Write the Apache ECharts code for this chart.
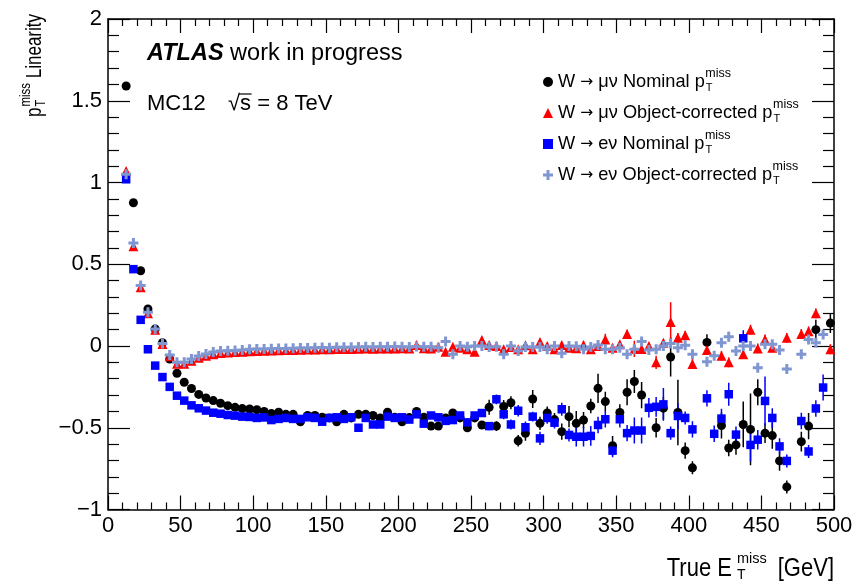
<!DOCTYPE html>
<html><head><meta charset="utf-8">
<script src="https://cdn.jsdelivr.net/npm/echarts@6/dist/echarts.min.js"></script>
<style>html,body{margin:0;padding:0;background:#fff}#c{width:855px;height:582px}</style>
</head><body><div id="c"></div>
<script>
const binCenters = [12.5,17.5,22.5,27.5,32.5,37.5,42.5,47.5,52.5,57.5,
 62.5,67.5,72.5,77.5,82.5,87.5,92.5,97.5,102.5,107.5,
 112.5,117.5,122.5,127.5,132.5,137.5,142.5,147.5,152.5,157.5,
 162.5,167.5,172.5,177.5,182.5,187.5,192.5,197.5,202.5,207.5,
 212.5,217.5,222.5,227.5,232.5,237.5,242.5,247.5,252.5,257.5,
 262.5,267.5,272.5,277.5,282.5,287.5,292.5,297.5,302.5,307.5,
 312.5,317.5,322.5,327.5,332.5,337.5,342.5,347.5,352.5,357.5,
 362.5,367.5,372.5,377.5,382.5,387.5,392.5,397.5,402.5,407.5,
 412.5,417.5,422.5,427.5,432.5,437.5,442.5,447.5,452.5,457.5,
 462.5,467.5,472.5,477.5,482.5,487.5,492.5,497.5];

const muNominal = [1.59,0.876,0.46,0.226,0.104,0.02,-0.08,-0.167,-0.222,-0.26,
 -0.296,-0.318,-0.334,-0.35,-0.365,-0.375,-0.383,-0.385,-0.39,-0.40,
 -0.413,-0.405,-0.418,-0.418,-0.463,-0.425,-0.425,-0.436,-0.44,-0.463,
 -0.418,-0.44,-0.418,-0.418,-0.425,-0.44,-0.405,-0.436,-0.463,-0.438,
 -0.40,-0.436,-0.49,-0.49,-0.44,-0.41,-0.44,-0.50,-0.44,-0.483,
 -0.375,-0.49,-0.37,-0.347,-0.58,-0.534,-0.324,-0.473,-0.41,-0.45,
 -0.524,-0.432,-0.473,-0.453,-0.367,-0.259,-0.34,-0.61,-0.407,-0.283,
 -0.217,-0.30,null,-0.50,-0.38,-0.067,-0.407,-0.64,-0.745,null,
 0.022,null,-0.486,-0.624,-0.605,-0.48,-0.51,-0.283,-0.533,-0.548,
 -0.703,-0.862,null,-0.585,-0.49,0.10,null,0.14];

const muCorrected = [1.07,0.61,0.36,0.20,0.10,0.012,-0.062,-0.108,-0.108,-0.09,
 -0.072,-0.06,-0.05,-0.043,-0.04,-0.037,-0.035,-0.032,-0.03,-0.029,
 -0.028,-0.026,-0.025,-0.024,-0.023,-0.022,-0.021,-0.02,-0.02,-0.019,
 -0.018,-0.018,-0.017,-0.016,-0.017,-0.015,-0.016,-0.015,-0.014,-0.016,
 0.006,-0.014,-0.015,-0.004,-0.035,-0.004,-0.01,-0.02,-0.035,0.037,
 0.006,0.0,-0.02,-0.006,-0.02,0.004,-0.02,0.025,0.0,-0.02,
 0.006,-0.01,-0.013,0.006,-0.02,0.0,0.04,-0.01,0.01,0.074,
 -0.018,-0.018,0.0,-0.10,0.02,0.147,0.05,0.066,-0.11,null,
 -0.025,null,-0.06,-0.10,null,-0.05,0.10,-0.015,0.04,-0.01,
 null,0.05,null,0.074,0.09,0.20,null,-0.02];

const eNominal = [1.02,0.47,0.16,-0.02,-0.12,-0.19,-0.25,-0.304,-0.334,-0.363,
 -0.381,-0.395,-0.408,-0.414,-0.422,-0.426,-0.432,-0.434,-0.44,-0.437,
 -0.453,-0.446,-0.44,-0.446,-0.446,-0.436,-0.44,-0.463,-0.44,-0.436,
 -0.446,-0.436,-0.50,-0.44,-0.48,-0.48,-0.432,-0.44,-0.436,-0.45,
 -0.418,-0.475,-0.425,-0.436,-0.458,-0.453,-0.425,-0.467,-0.425,-0.41,
 -0.49,-0.326,-0.418,-0.48,-0.396,-0.497,-0.432,-0.565,-0.44,-0.469,
 -0.387,-0.544,-0.555,-0.555,-0.55,-0.483,-0.448,-0.64,-0.448,-0.533,
 -0.517,-0.517,-0.378,-0.372,-0.357,-0.533,-0.428,-0.44,-0.51,null,
 -0.32,-0.537,-0.444,-0.295,-0.542,0.047,-0.605,-0.573,-0.336,-0.44,
 -0.614,-0.703,null,-0.459,-0.645,-0.382,-0.254,null];

const eCorrected = [1.05,0.63,0.37,0.206,0.104,0.016,-0.055,-0.10,-0.10,-0.08,
 -0.061,-0.049,-0.037,-0.031,-0.029,-0.027,-0.024,-0.02,-0.019,-0.018,
 -0.017,-0.016,-0.015,-0.013,-0.012,-0.012,-0.01,-0.009,-0.01,-0.008,
 -0.007,-0.008,-0.006,-0.005,-0.006,-0.004,-0.005,-0.003,-0.004,-0.006,
 -0.003,-0.004,-0.005,-0.01,0.027,-0.05,0.0,-0.004,0.0,0.0,
 -0.006,-0.004,-0.05,0.0,-0.03,-0.006,-0.006,-0.006,-0.02,0.0,
 -0.045,0.0,-0.002,-0.02,-0.006,0.006,-0.02,-0.02,-0.01,-0.05,
 -0.02,0.028,-0.025,-0.02,0.0,0.015,-0.01,0.004,-0.05,null,
 -0.096,-0.06,0.02,0.057,-0.03,0.0,0.0,-0.133,0.01,0.01,
 -0.025,-0.14,null,-0.05,0.04,0.02,0.07,null];

const muNominalErr = [0.005,0.005,0.005,0.005,0.005,0.005,0.005,0.005,0.005,0.005,
 0.005,0.005,0.005,0.005,0.005,0.005,0.005,0.005,0.005,0.005,
 0.005,0.005,0.005,0.005,0.005,0.005,0.005,0.005,0.005,0.005,
 0.008,0.008,0.008,0.008,0.008,0.008,0.008,0.008,0.008,0.008,
 0.008,0.008,0.008,0.008,0.01,0.01,0.012,0.02,0.02,0.025,
 0.046,0.03,0.04,0.04,0.035,0.045,0.055,0.04,0.04,0.04,
 0.05,0.065,0.076,0.05,0.045,0.09,0.06,0.06,0.05,0.08,
 0.07,0.08,null,0.06,0.07,0.12,0.2,0.05,0.04,null,
 0.05,null,0.08,0.05,0.06,0.14,0.22,0.08,0.06,0.08,
 0.06,0.04,null,0.06,0.08,0.06,null,0.06];

const muCorrectedErr = [0.004,0.004,0.004,0.004,0.004,0.004,0.004,0.004,0.004,0.004,
 0.004,0.004,0.004,0.004,0.004,0.004,0.004,0.004,0.004,0.004,
 0.004,0.004,0.004,0.004,0.004,0.004,0.004,0.004,0.004,0.004,
 0.004,0.004,0.004,0.004,0.004,0.004,0.004,0.004,0.004,0.004,
 0.005,0.005,0.005,0.006,0.006,0.008,0.01,0.012,0.012,0.015,
 0.015,0.015,0.015,0.015,0.015,0.02,0.02,0.02,0.02,0.02,
 0.02,0.02,0.025,0.025,0.025,0.025,0.035,0.02,0.02,0.025,
 0.05,0.03,0.02,0.04,0.02,0.12,0.03,0.025,0.03,null,
 0.02,null,0.03,0.03,null,0.03,0.03,0.03,0.03,0.03,
 null,0.03,null,0.03,0.03,0.03,null,0.03];

const eNominalErr = [0.005,0.005,0.005,0.005,0.005,0.005,0.005,0.005,0.005,0.005,
 0.005,0.005,0.005,0.005,0.005,0.005,0.005,0.005,0.005,0.005,
 0.005,0.005,0.005,0.005,0.005,0.005,0.005,0.005,0.005,0.005,
 0.008,0.008,0.008,0.008,0.008,0.008,0.008,0.008,0.008,0.008,
 0.008,0.008,0.008,0.008,0.01,0.01,0.012,0.015,0.02,0.02,
 0.025,0.03,0.03,0.03,0.035,0.035,0.03,0.04,0.035,0.035,
 0.04,0.04,0.06,0.06,0.06,0.05,0.05,0.04,0.05,0.05,
 0.08,0.08,0.06,0.06,0.1,0.04,0.08,0.04,0.05,null,
 0.05,0.05,0.06,0.07,0.05,0.05,0.1,0.06,0.15,0.06,
 0.05,0.04,null,0.05,0.04,0.05,0.08,null];

const eCorrectedErr = [0.004,0.004,0.004,0.004,0.004,0.004,0.004,0.004,0.004,0.004,
 0.004,0.004,0.004,0.004,0.004,0.004,0.004,0.004,0.004,0.004,
 0.004,0.004,0.004,0.004,0.004,0.004,0.004,0.004,0.004,0.004,
 0.004,0.004,0.004,0.004,0.004,0.004,0.004,0.004,0.004,0.004,
 0.005,0.005,0.005,0.006,0.006,0.008,0.01,0.01,0.01,0.01,
 0.012,0.012,0.012,0.012,0.012,0.012,0.012,0.012,0.012,0.012,
 0.015,0.015,0.015,0.015,0.015,0.015,0.02,0.02,0.02,0.02,
 0.02,0.02,0.02,0.02,0.02,0.02,0.02,0.02,0.02,null,
 0.025,0.025,0.025,0.03,0.025,0.025,0.025,0.025,0.025,0.025,
 0.025,0.025,null,0.025,0.025,0.025,0.025,null];

const xTickStep = 50;
const yTickStep = 0.5;

const seriesNames = [
  'W \u2192 \u03bc\u03bd Nominal p',
  'W \u2192 \u03bc\u03bd Object-corrected p',
  'W \u2192 e\u03bd Nominal p',
  'W \u2192 e\u03bd Object-corrected p'
];
const COL_BLACK = '#000000', COL_RED = '#ff0000', COL_BLUE = '#0000ff', COL_LBLUE = '#7f96d0';
const FONT = "'Liberation Sans', Arial, Helvetica, sans-serif";
const ARROW_FONT = "'DejaVu Sans', sans-serif";
const CROSS = 'path://M3.5,0H6.5V3.5H10V6.5H6.5V10H3.5V6.5H0V3.5H3.5Z';

const mctx = document.createElement('canvas').getContext('2d');
function tw(text, size, weight, style, fam) {
  mctx.font = (style || 'normal') + ' ' + (weight || 'normal') + ' ' + size + 'px ' + (fam || '"Liberation Sans"');
  return mctx.measureText(text).width;
}

function pts(vals) {
  const out = [];
  binCenters.forEach((x, i) => { if (vals[i] != null) out.push([x, vals[i]]); });
  return out;
}
function errData(vals, errs) {
  const out = [];
  binCenters.forEach((x, i) => {
    if (vals[i] != null && errs[i] != null) out.push([x, vals[i] - errs[i], vals[i] + errs[i]]);
  });
  return out;
}
function errSeries(vals, errs, color, z) {
  return {
    type: 'custom', silent: true, z: z, clip: true,
    data: errData(vals, errs),
    encode: { x: 0, y: [1, 2] },
    renderItem: function (params, api) {
      const a = api.coord([api.value(0), api.value(1)]);
      const b = api.coord([api.value(0), api.value(2)]);
      return { type: 'line', shape: { x1: a[0], y1: a[1], x2: b[0], y2: b[1] },
               style: { stroke: color, lineWidth: 1.5 } };
    }
  };
}
function scatterSeries(name, vals, symbol, size, color, z) {
  return { name: name, type: 'scatter', data: pts(vals), symbol: symbol, symbolSize: size,
           itemStyle: { color: color, opacity: 1 }, z: z, silent: true,
           emphasis: { disabled: true } };
}

const chart = echarts.init(document.getElementById('c'), null, { renderer: 'canvas' });

const fmtY = v => (v < 0 ? '\u2212' + String(-v) : String(v));
const axisLineStyle = { color: '#000', width: 1.5 };

const graphics = [];
graphics.push({ type: 'text', x: 147, y: 54, style: {
  text: '{b|ATLAS} work in progress', fontSize: 23.5, fontFamily: FONT, fill: '#000',
  verticalAlign: 'middle', textVerticalAlign: 'middle',
  rich: { b: { fontWeight: 'bold', fontStyle: 'italic', fontSize: 23.5, fontFamily: FONT } } } });
graphics.push({ type: 'text', x: 147, y: 104, style: { text: 'MC12', fontSize: 22, fontFamily: FONT, fill: '#000', verticalAlign: 'middle', textVerticalAlign: 'middle' } });
const sqX = 228;
graphics.push({ type: 'text', x: sqX, y: 104, style: { text: '\u221as = 8 TeV', fontSize: 22, fontFamily: FONT, fill: '#000', verticalAlign: 'middle', textVerticalAlign: 'middle' } });
const wRoot = tw('\u221a', 22), wRootS = tw('\u221as', 22);
graphics.push({ type: 'line', shape: { x1: sqX + wRoot - 1, y1: 94, x2: sqX + wRootS + 0.5, y2: 94 }, style: { stroke: '#000', lineWidth: 1.2 } });

// legend sup/sub
const LFS = 18.2;
const AFS = 15.5;
const ICON = 10;
const legendLeft = 543, legendTop = 72, rowStep = 31;
function legendWidth(n) {
  const parts = n.split('\u2192');
  return tw(parts[0], LFS) + tw('\u2192', AFS, null, null, '"DejaVu Sans"') + tw(parts[1], LFS);
}
seriesNames.forEach((n, i) => {
  const cy = legendTop + 10 + rowStep * i;
  const x0 = legendLeft + ICON + 5 + legendWidth(n);
  graphics.push({ type: 'text', x: x0 + 0.5, y: cy - 8, style: { text: 'miss', fontSize: 12.5, fontFamily: FONT, fill: '#000', verticalAlign: 'middle', textVerticalAlign: 'middle' } });
  graphics.push({ type: 'text', x: x0 + 1, y: cy + 6, style: { text: 'T', fontSize: 11, fontFamily: FONT, fill: '#000', verticalAlign: 'middle', textVerticalAlign: 'middle' } });
});

// x-axis title
(function () {
  const F = 22, FS = 14.5, FT = 14;
  const right = 834, cy = 569;
  const wG = tw('[GeV]', F), wMiss = tw('miss', FS), wT = tw('T', FT), wE = tw('True E', F);
  const gStart = right - wG;
  const sStart = gStart - 11 - Math.max(wMiss, wT);
  const eStart = sStart - 5 - wE;
  const sty = (t, f) => ({ text: t, fontSize: f, fontFamily: FONT, fill: '#000', verticalAlign: 'middle', textVerticalAlign: 'middle' });
  graphics.push({ type: 'text', x: eStart, y: cy, scaleY: 1.15, style: sty('True E', F) });
  graphics.push({ type: 'text', x: sStart, y: cy - 10, style: sty('miss', FS) });
  graphics.push({ type: 'text', x: sStart, y: cy + 6, style: sty('T', FT) });
  graphics.push({ type: 'text', x: gStart, y: cy, scaleY: 1.15, style: sty('[GeV]', F) });
})();

// y-axis title (rotated)
(function () {
  const F = 17, FS = 11.5, FT = 11;
  const wp = tw('p', F), wMiss = tw('miss', FS), wT = tw('T', FT);
  const blk = Math.max(wMiss, wT);
  const wLin = tw(' Linearity', F);
  const total = wp + 1 + blk + wLin;
  const topEnd = 14;
  const startY = topEnd + total;
  const sty = (t, f) => ({ text: t, fontSize: f, fontFamily: FONT, fill: '#000', verticalAlign: 'middle', textVerticalAlign: 'middle' });
  graphics.push({ type: 'group', x: 35, y: startY, rotation: Math.PI / 2, scaleY: 1.3, children: [
    { type: 'text', x: 0, y: 0, style: sty('p', F) },
    { type: 'text', x: wp + 1, y: -7, style: sty('miss', FS) },
    { type: 'text', x: wp + 1, y: 5, style: sty('T', FT) },
    { type: 'text', x: wp + 1 + blk, y: 0, style: sty(' Linearity', F) }
  ] });
})();

const baseX = {
  type: 'value', min: 0, max: 500, interval: xTickStep,
  axisLine: { show: true, onZero: false, lineStyle: axisLineStyle },
  axisTick: { show: true, inside: true, length: 14, lineStyle: { color: '#000', width: 1.2 } },
  minorTick: { show: true, splitNumber: 5, length: 7, lineStyle: { color: '#000', width: 1.2 } },
  splitLine: { show: false }, minorSplitLine: { show: false }
};
const baseY = {
  type: 'value', min: -1, max: 2, interval: yTickStep,
  axisLine: { show: true, onZero: false, lineStyle: axisLineStyle },
  axisTick: { show: true, inside: true, length: 22, lineStyle: { color: '#000', width: 1.2 } },
  minorTick: { show: true, splitNumber: 5, length: 11, lineStyle: { color: '#000', width: 1.2 } },
  splitLine: { show: false }, minorSplitLine: { show: false }
};

chart.setOption({
  animation: false,
  backgroundColor: '#fff',
  textStyle: { fontFamily: FONT },
  grid: { left: 108, right: 21, top: 19, bottom: 72.5, containLabel: false, outerBoundsMode: 'none' },
  xAxis: [
    Object.assign({}, baseX, { position: 'bottom',
      axisLabel: { show: true, fontSize: 22, color: '#000', fontFamily: FONT, margin: 5 } }),
    Object.assign({}, baseX, { position: 'top', axisLabel: { show: false } })
  ],
  yAxis: [
    Object.assign({}, baseY, { position: 'left',
      axisLabel: { show: true, fontSize: 22, color: '#000', fontFamily: FONT, margin: 6, formatter: fmtY } }),
    Object.assign({}, baseY, { position: 'right', axisLabel: { show: false } })
  ],
  legend: {
    orient: 'vertical', left: legendLeft, top: legendTop, itemWidth: ICON, itemHeight: ICON, itemGap: 11,
    selectedMode: false, padding: 0,
    formatter: n => n.replace('\u2192', '{a|\u2192}'),
    textStyle: { fontSize: LFS, fontFamily: FONT, color: '#000', lineHeight: 20,
      rich: { a: { fontSize: AFS, fontFamily: ARROW_FONT, color: '#000', lineHeight: 20 } } },
    data: seriesNames.map(n => ({ name: n }))
  },
  series: [
    errSeries(muNominal, muNominalErr, COL_BLACK, 2),
    errSeries(muCorrected, muCorrectedErr, COL_RED, 2),
    errSeries(eNominal, eNominalErr, COL_BLUE, 2),
    errSeries(eCorrected, eCorrectedErr, COL_LBLUE, 2),
    scatterSeries(seriesNames[0], muNominal, 'circle', 9, COL_BLACK, 3),
    scatterSeries(seriesNames[1], muCorrected, 'triangle', 10, COL_RED, 3),
    scatterSeries(seriesNames[2], eNominal, 'rect', 8.5, COL_BLUE, 3),
    scatterSeries(seriesNames[3], eCorrected, CROSS, 10, COL_LBLUE, 3)
  ],
  graphic: graphics
});
</script>
</body></html>
